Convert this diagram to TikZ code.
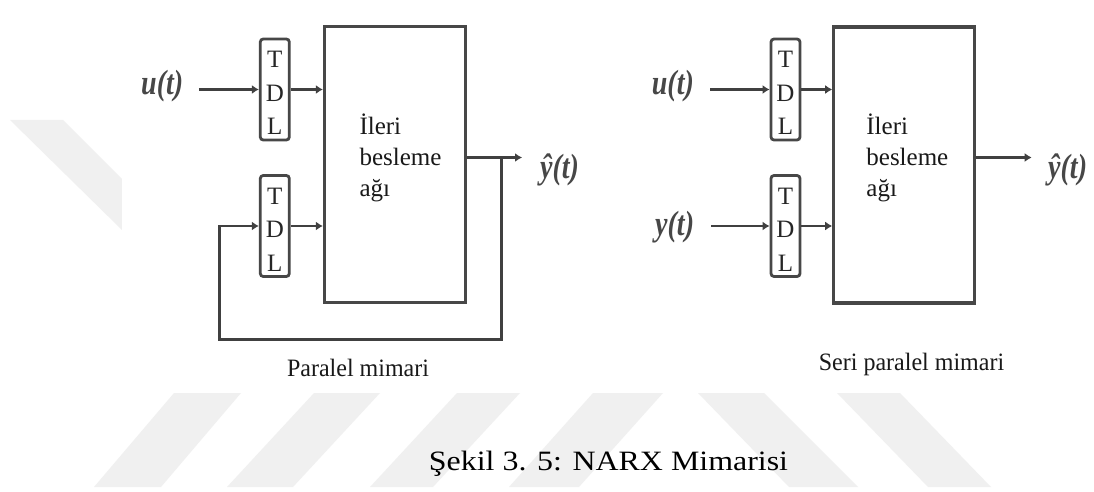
\documentclass[tikz,border=0pt]{standalone}
\usepackage{fontspec}
\setmainfont{Liberation Serif}
\usetikzlibrary{arrows.meta,calc}
\begin{document}
\begin{tikzpicture}[x=1pt,y=-1pt,
  wire/.style={line width=2.8pt, draw=black!75},
  arr/.style={wire, -{Latex[length=7pt,width=9pt]}},
  netbox/.style={draw=black!72, line width=3.2pt, minimum width=141pt, minimum height=276pt, inner sep=0pt},
  tdlbox/.style={draw=black!72, line width=2.8pt, rounded corners=3pt, minimum width=29pt, minimum height=101pt, inner sep=0pt},
  tdltext/.style={font=\fontsize{25}{33.5}\selectfont, text=black!85, inner sep=0pt, anchor=base},
  sig/.style={font=\fontsize{28}{30}\selectfont\bfseries\itshape, text=black!72, inner sep=0pt, anchor=base west},
  nettext/.style={font=\fontsize{25}{31}\selectfont, text=black!90, inner sep=0pt, anchor=base west},
  sub/.style={font=\fontsize{25}{30}\selectfont, text=black!90, inner sep=0pt, anchor=base},
  stripe/.style={fill=gray!12, draw=none}]
\useasboundingbox (0,0) rectangle (1094,492);
\fill[white] (0,0) rectangle (1094,492);
% watermark stripes
\fill[stripe] (10,120) -- (63,120) -- (122,179) -- (122,230) -- cycle;
\fill[stripe] (174,393) -- (241,393) -- (161,487) -- (94,487) -- cycle;
\fill[stripe] (314,393) -- (380,393) -- (293,487) -- (227,487) -- cycle;
\fill[stripe] (457,393) -- (520,393) -- (433,487) -- (370,487) -- cycle;
\fill[stripe] (593,393) -- (663,393) -- (579,487) -- (509,487) -- cycle;
\fill[stripe] (698,393) -- (764,393) -- (858,487) -- (789,487) -- cycle;
\fill[stripe] (837,393) -- (900,393) -- (991,487) -- (928,487) -- cycle;
\fill[white] (122,10) rectangle (1094,385);
% boxes
\node[netbox] (netL) at (395,164.4) {};
\node[netbox] (netR) at (904.3,165) {};
\node[tdlbox] (tdlA) at (274.8,89.5) {};
\node[tdlbox] (tdlB) at (274.8,226) {};
\node[tdlbox] (tdlC) at (785.5,89.5) {};
\node[tdlbox] (tdlD) at (785.5,226) {};
\foreach \t in {tdlA,tdlB,tdlC,tdlD}
  \node[tdltext] (\t txt) at ([yshift=-30pt]\t.north) {\begin{tabular}[t]{@{}c@{}}T\\D\\L\end{tabular}};
% texts in nets
\node[nettext] (txtL) at (359.3,135) {\begin{tabular}[t]{@{}l@{}}İleri\\besleme\\ağı\end{tabular}};
\node[nettext] (txtR) at (866.2,135) {\begin{tabular}[t]{@{}l@{}}İleri\\besleme\\ağı\end{tabular}};
% signal labels
\node[sig] (uL) at (141,95) {\scalebox{1}[1.25]{u(t)}};
\node[sig] (uR) at (651.7,95) {\scalebox{1}[1.25]{u(t)}};
\node[sig] (yR) at (655,235) {\scalebox{1}[1.25]{y(t)}};
\node[sig] (yhL) at (540,178) {\scalebox{1}[1.25]{ŷ(t)}};
\node[sig] (yhR) at (1048,178) {\scalebox{1}[1.25]{ŷ(t)}};
% left connectors
\coordinate (uLs) at (198.8,89.5);
\draw[arr] (uLs) -- (tdlA.west);
\draw[arr] (tdlA.east) -- (tdlA.east -| netL.west);
\draw[arr] (tdlB.east) -- (tdlB.east -| netL.west);
\coordinate (tapL) at (501.3,157.5);
\coordinate (tipL) at (522,157.5);
\draw[arr] (netL.east |- tipL) -- (tipL);
\coordinate (fbLow) at (219.1,339.3);
\draw[arr] (tapL) |- (fbLow) |- (tdlB.west);
% right connectors
\coordinate (uRs) at (710.3,89.5);
\coordinate (yRs) at (711,226);
\draw[arr] (uRs) -- (tdlC.west);
\draw[arr] (yRs) -- (tdlD.west);
\draw[arr] (tdlC.east) -- (tdlC.east -| netR.west);
\draw[arr] (tdlD.east) -- (tdlD.east -| netR.west);
\coordinate (tipR) at (1031.7,157.5);
\draw[arr] (netR.east |- tipR) -- (tipR);
% captions
\node[sub] (capL) at (358,376.7) {\scalebox{0.96}[1]{Paralel mimari}};
\node[sub] (capR) at (911.5,370) {\scalebox{0.96}[1]{Seri paralel mimari}};
\node[anchor=base, inner sep=0pt, font=\fontsize{28}{32}\selectfont] (fig) at (608.5,470) {\scalebox{1.14}[1]{Şekil 3. 5: NARX Mimarisi}};
\end{tikzpicture}
\end{document}
